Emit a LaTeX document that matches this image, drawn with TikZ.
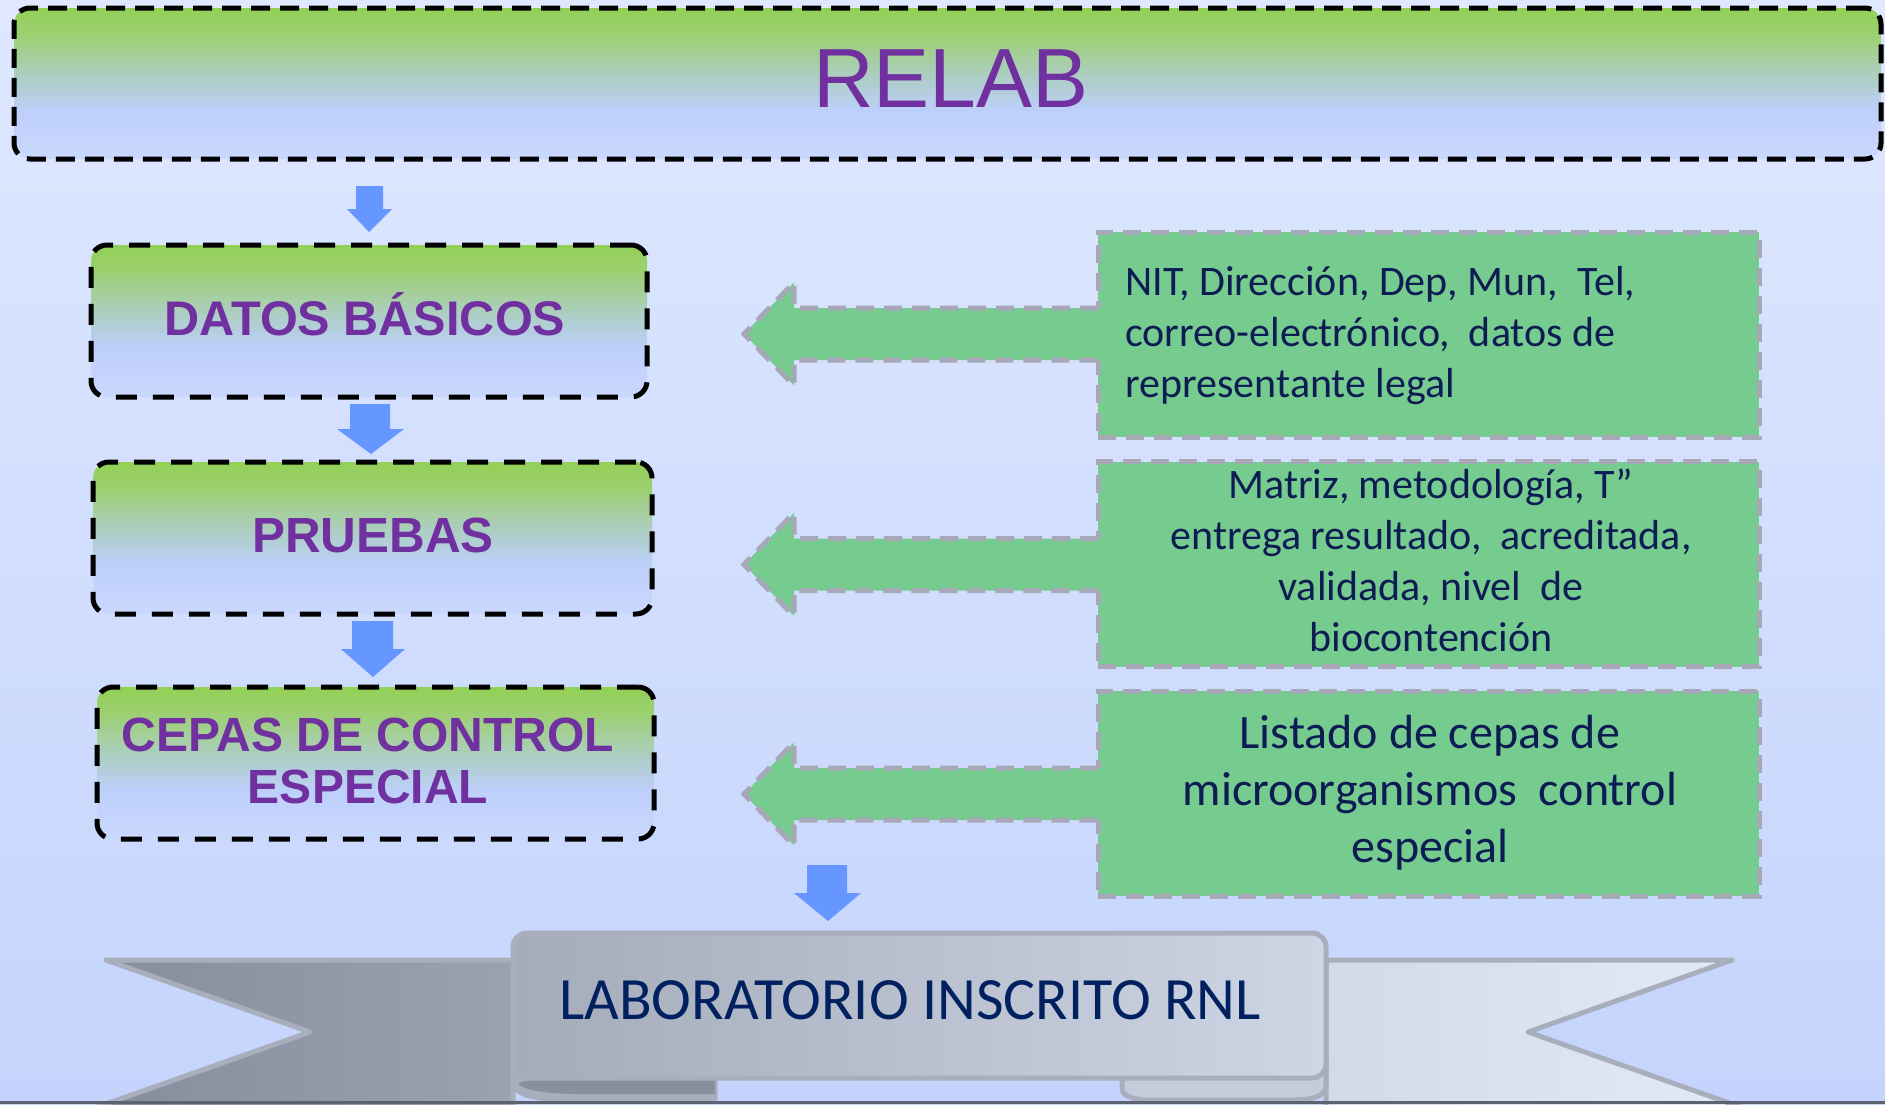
\documentclass[tikz,border=0pt]{standalone}
\usepackage{fontspec}
\setmainfont{Liberation Sans}
\newfontfamily\gillfont{Carlito}
\usetikzlibrary{calc}
\definecolor{bgtop}{RGB}{223,232,255}
\definecolor{bgbot}{RGB}{196,212,252}
\definecolor{bxgreen}{RGB}{146,208,86}
\definecolor{bxgreen2}{RGB}{156,208,112}
\definecolor{bxmid}{RGB}{174,206,200}
\definecolor{bxblue}{RGB}{189,207,251}
\definecolor{bxlow}{RGB}{202,216,253}
\definecolor{purp}{RGB}{112,48,160}
\definecolor{arrblue}{RGB}{102,150,255}
\definecolor{boxgreen}{RGB}{118,203,143}
\definecolor{dashgray}{RGB}{166,168,184}
\definecolor{navy}{RGB}{14,28,84}
\definecolor{rnlnavy}{RGB}{0,32,96}
\definecolor{ribedgecol}{RGB}{169,174,188}
\definecolor{ribLa}{RGB}{133,142,157}
\definecolor{ribLb}{RGB}{154,161,175}
\definecolor{ribCa}{RGB}{164,171,185}
\definecolor{ribCb}{RGB}{206,214,229}
\definecolor{ribRa}{RGB}{210,218,234}
\definecolor{ribRb}{RGB}{227,234,247}
\definecolor{ribdark}{RGB}{136,144,160}
\definecolor{ribRfold}{RGB}{196,204,220}
\definecolor{baseline}{RGB}{92,98,112}
\pgfdeclareverticalshading{lboxshade}{100bp}{color(0bp)=(bxlow); color(25bp)=(bxlow); color(41bp)=(bxblue); color(51.5bp)=(bxmid); color(66.5bp)=(bxgreen2); color(75bp)=(bxgreen); color(100bp)=(bxgreen)}
\newcommand\gArrow[1]{%
  \fill[boxgreen] (1101,{#1-26}) -- (794,{#1-26}) -- (794,{#1-51.5}) -- (744,#1) -- (794,{#1+51.5}) -- (794,{#1+26}) -- (1101,{#1+26}) -- cycle;
  \draw[grayedge] (1098,{#1-26}) -- (794,{#1-26}) -- (794,{#1-51.5}) -- (744,#1) -- (794,{#1+51.5}) -- (794,{#1+26}) -- (1098,{#1+26});}
\begin{document}
\begin{tikzpicture}[x=0.5pt,y=-0.5pt,
  lbox/.style={draw=black, line width=2.5pt, dash pattern=on 10.5pt off 8pt, rounded corners=8pt, shading=lboxshade, inner sep=0pt, minimum height=76pt},
  ltext/.style={font=\bfseries\fontsize{24.3pt}{26pt}\selectfont, text=purp, inner sep=0pt},
  grayedge/.style={draw=dashgray, line width=2.5pt, dash pattern=on 9pt off 5pt},
  gbox/.style={fill=boxgreen, grayedge, inner sep=0pt, minimum width=330.5pt, minimum height=102.5pt},
  gtext/.style={text=navy, inner sep=0pt},
  bluearr/.style={fill=arrblue},
  ribbonline/.style={draw=ribedgecol, line width=2.5pt, line join=round}]
\useasboundingbox (0,0) rectangle (1885,1104);
\shade[top color=bgtop,bottom color=bgbot] (0,0) rectangle (1885,1104);

% top box
\node[lbox, dash pattern=on 9.5pt off 5pt, minimum width=933.5pt, minimum height=75.5pt] (relab) at (947.5,83.5) {};
\node[font=\fontsize{42pt}{48pt}\selectfont, text=purp, anchor=base, inner sep=0pt] (relabt) at (951,107) {RELAB};

% left boxes
\node[lbox, minimum width=278pt] (datos) at (369,321) {};
\node[ltext, anchor=base] (datost) at (365,335) {DATOS BÁSICOS};
\node[lbox, minimum width=279.5pt] (pruebas) at (372.5,538) {};
\node[ltext, anchor=base, font=\bfseries\fontsize{24.7pt}{26pt}\selectfont] (pruebast) at (373,552) {PRUEBAS};
\node[lbox, minimum width=278.5pt] (cepas) at (375.5,763) {};
\node[ltext, anchor=base, font=\bfseries\fontsize{24pt}{26pt}\selectfont] (cepast) at (368,751) {\begin{tabular}[t]{@{}c@{}}CEPAS DE CONTROL\\ESPECIAL\end{tabular}};

% blue down arrows
\fill[bluearr] (356,186) -- (383,186) -- (383,209) -- (392,209) -- (369,232) -- (347,209) -- (356,209) -- cycle;
\fill[bluearr] (350,404) -- (390,404) -- (390,429) -- (404,429) -- (371,454) -- (337,429) -- (350,429) -- cycle;
\fill[bluearr] (352,621) -- (393,621) -- (393,649) -- (405,649) -- (373,677) -- (341,649) -- (352,649) -- cycle;
\fill[bluearr] (807,865) -- (847,865) -- (847,893) -- (861,893) -- (828,921) -- (794,893) -- (807,893) -- cycle;

% right boxes
\node[gbox] (nit) at (1428.5,334.5) {};
\node[gbox] (matriz) at (1428.5,564) {};
\node[gbox] (listado) at (1428.5,793.5) {};
\gArrow{334}
\gArrow{564.5}
\gArrow{794}
\node[gtext, anchor=base west, font=\gillfont\fontsize{21pt}{25.5pt}\selectfont] (nitt) at (1125,295) {\begin{tabular}[t]{@{}l@{}}NIT, Dirección, Dep, Mun,\ \ Tel,\\correo-electrónico,\ \ datos de\\representante legal\end{tabular}};
\node[gtext, anchor=base, font=\gillfont\fontsize{21pt}{25.6pt}\selectfont] (matrizt) at (1431,498) {\begin{tabular}[t]{@{}c@{}}Matriz, metodología, T”\\entrega resultado,\ \ acreditada,\\validada, nivel\ \ de\\biocontención\end{tabular}};
\node[gtext, anchor=base, font=\gillfont\fontsize{24pt}{28.5pt}\selectfont] (listadot) at (1430,748) {\begin{tabular}[t]{@{}c@{}}Listado de cepas de\\microorganismos\ \ control\\especial\end{tabular}};

% ribbon
\draw[ribbonline, left color=ribLa, right color=ribLb] (106,960) -- (513,960) -- (513,1110) -- (89,1110) -- (310,1032) -- cycle;
\draw[ribbonline, left color=ribRa, right color=ribRb] (1326,960) -- (1732,960) -- (1528,1032) -- (1749,1110) -- (1326,1110) -- cycle;
\draw[ribbonline, fill=ribedgecol] (513,1060) -- (715,1060) -- (715,1099) -- (560,1099) .. controls (525,1099) and (513,1092) .. (513,1080) -- cycle;
\fill[ribdark] (715,1078) -- (560,1078) .. controls (535,1078) and (520,1081) .. (518,1084) .. controls (525,1090) and (545,1094) .. (580,1094) -- (715,1094) -- cycle;
\draw[ribbonline, fill=ribRfold] (1326,1060) -- (1326,1085) .. controls (1326,1097) and (1312,1100) .. (1290,1100) -- (1150,1100) .. controls (1130,1100) and (1122,1095) .. (1122,1088) -- (1122,1060) -- cycle;
\draw[ribbonline, left color=ribCa, right color=ribCb, rounded corners=7pt] (513,1078) -- (513,933) -- (1326,933) -- (1326,1078) -- cycle;
\node[font=\gillfont\fontsize{30pt}{34pt}\selectfont, text=rnlnavy, anchor=base, inner sep=0pt] (rnl) at (910,1019) {LABORATORIO INSCRITO RNL};
\draw[draw=baseline, line width=1.5pt] (0,1102.5) -- (1885,1102.5);
\end{tikzpicture}
\end{document}
